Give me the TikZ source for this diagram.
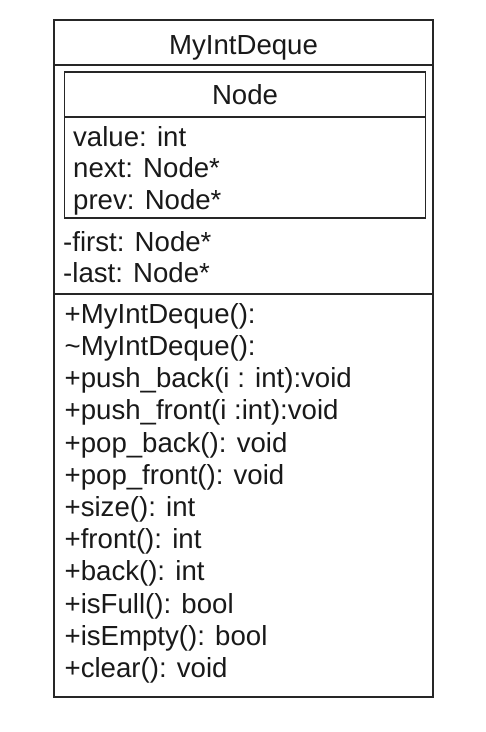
\documentclass[tikz,border=0pt]{standalone}
\usepackage{fontspec}
\setmainfont{Liberation Sans}
\usetikzlibrary{positioning}

\tikzset{
  txt/.style={inner sep=0pt,text height=22pt,text depth=9.8pt,anchor=base west,
    text=black!90,font=\fontsize{27.6}{31.8}\selectfont},
  ttl/.style={txt,anchor=base},
  row/.style={below=0pt of #1.south west,anchor=north west},
  box/.style={draw=black!85,line width=1.3pt}
}

\begin{document}
\begin{tikzpicture}[x=1pt,y=-1pt]
\useasboundingbox (0,0) rectangle (486,732);

% boxes
\draw[box] (54,20) rectangle (433,697);
\draw[box] (54,65) -- (433,65);
\draw[box] (54,294) -- (433,294);
\draw[box] (64.5,72) rectangle (425.5,218);
\draw[box] (64.5,117) -- (425.5,117);

% titles
\node (deque) [ttl] at (243.5,54.3) {MyIntDeque};
\node (node) [ttl] at (245,104.3) {Node};

% attributes
\node (value) [txt] at (73,146.7) {value: int};
\node (next) [txt,below=-1pt of value.south west,anchor=north west] {next: Node*};
\node (prev) [txt,below=-1pt of next.south west,anchor=north west] {prev: Node*};
\node (first) [txt] at (63,251.7) {-first: Node*};
\node (last) [txt,below=-1.8pt of first.south west,anchor=north west] {-last: Node*};

% methods
\node (ctor) [txt] at (64.5,323.3) {+MyIntDeque():};
\node (dtor) [txt,row=ctor] {\textasciitilde MyIntDeque():};
\node (pushb) [txt,row=dtor] {+push\_back(i : int):void};
\node (pushf) [txt,row=pushb] {+push\_front(i :int):void};
\node (popb) [txt,row=pushf] {+pop\_back(): void};
\node (popf) [txt,row=popb] {+pop\_front(): void};
\node (size) [txt,row=popf] {+size(): int};
\node (front) [txt,row=size] {+front(): int};
\node (back) [txt,row=front] {+back(): int};
\node (full) [txt,row=back] {+isFull(): bool};
\node (empty) [txt,row=full] {+isEmpty(): bool};
\node (clear) [txt,row=empty] {+clear(): void};
\end{tikzpicture}
\end{document}
